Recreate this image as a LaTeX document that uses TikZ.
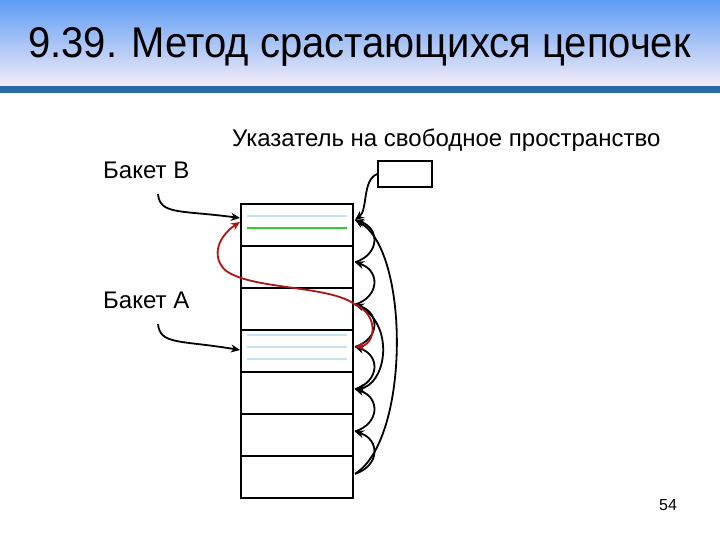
\documentclass[tikz,border=0pt]{standalone}
\usepackage{fontspec}
\setmainfont{Liberation Sans}
\usetikzlibrary{arrows.meta}
\definecolor{topb}{HTML}{5E9CF5}
\definecolor{botb}{HTML}{F3ECF8}
\definecolor{lineb}{HTML}{2A68A6}
\definecolor{redc}{HTML}{B01515}
\tikzset{
 cell/.style={draw,line width=1.6pt},
 arr/.style={line width=1.8pt,-{Stealth[length=9pt,width=8pt]}},
 rarr/.style={line width=1.8pt,draw=redc,-{Stealth[length=9pt,width=8pt]}},
 lbl/.style={font=\fontsize{24}{28}\selectfont,inner sep=0pt},
}
\begin{document}
\begin{tikzpicture}[x=1pt,y=-1pt]
\useasboundingbox (0,0) rectangle (720,540);
\fill[white] (0,0) rectangle (720,540);
\shade[top color=topb,bottom color=botb] (0,0) rectangle (720,86);
\fill[lineb] (0,86) rectangle (720,93);
\node[inner sep=0pt,anchor=west,font=\fontsize{43}{46}\selectfont,xscale=0.93] (title) at (28,47) {9.39. Метод срастающихся цепочек};
\node[lbl,anchor=west] (ptr) at (232,140) {Указатель на свободное пространство};
\node[lbl,anchor=west] (bb) at (103,170) {Бакет В};
\node[lbl,anchor=west] (ba) at (103,300) {Бакет А};
\node[font=\fontsize{16}{18}\selectfont,inner sep=0pt] (pg) at (668,505) {54};
\node[cell,minimum width=54pt,minimum height=26pt,inner sep=0pt] (fb) at (405,174) {};
\foreach \i in {0,...,6}{
 \node[cell,minimum width=112pt,minimum height=42pt,inner sep=0pt,anchor=north west] (r\i) at (240,{203+42*\i}) {};
 \coordinate (p\i) at (355,{220+42.3*\i});
}
\draw[line width=1.5pt,gray!40!cyan!30] (247,216) -- (347,216);
\draw[line width=1.5pt,green!60!gray] (247,228) -- (347,228);
\foreach \y in {335,347,359}\draw[line width=1.5pt,gray!40!cyan!30] (247,\y) -- (347,\y);
\coordinate (bbs) at (158,194);
\coordinate (bas) at (158,324);
\coordinate (bbe) at (240,218);
\coordinate (bae) at (240,350);
\draw[arr] (bbs) .. controls (160,215) and (180,210) .. (bbe);
\draw[arr] (bas) .. controls (160,345) and (180,340) .. (bae);
\draw[arr] (fb.west) .. controls (362,180) and (368,210) .. (p0);
\foreach \a/\b in {1/0,2/1,3/2,4/3,5/4,6/5}
 \draw[arr] (p\a) .. controls (380,{220+42.3*\a-8}) and (380,{220+42.3*\b+8}) .. (p\b);
\draw[arr] (p6) .. controls (410,440) and (410,250) .. (p0);
\draw[arr] (363,308) .. controls (395,330) and (385,385) .. (p4);
\draw[rarr] (p2) .. controls (330,285) and (250,290) .. (225,270) .. controls (210,255) and (220,235) .. (240,222);
\draw[rarr] (p2) .. controls (380,315) and (375,345) .. (p3);
\end{tikzpicture}
\end{document}
